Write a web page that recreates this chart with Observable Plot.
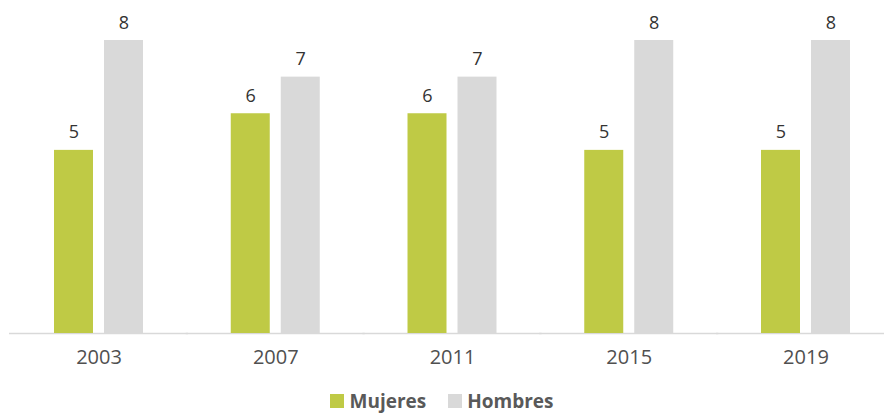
<!DOCTYPE html>
<html><head><meta charset="utf-8">
<script src="https://cdn.jsdelivr.net/npm/d3@7"></script>
<script src="https://cdn.jsdelivr.net/npm/@observablehq/plot@0.6"></script>
<style>
body{margin:0;background:#fff;font-family:"Open Sans",sans-serif}
#legend{display:flex;justify-content:center;align-items:center;height:34px;margin-top:0;padding-left:0}
.item{display:flex;align-items:center;margin:0 11px;font-weight:bold;font-size:19px;color:#595959}
.sw{width:14px;height:14px;margin-right:5px}
</style>
</head><body><div id="chart"></div><div id="legend"></div><script>
const years = ["2003","2007","2011","2015","2019"];
const series = ["Mujeres","Hombres"];
const mujeres = [5,6,6,5,5];
const hombres = [8,7,7,8,8];
const colors = ["#bfca45","#d9d9d9"];
const data = years.flatMap((y,i)=>[
  {year:y,sex:series[0],value:mujeres[i]},
  {year:y,sex:series[1],value:hombres[i]}
]);
const plot = Plot.plot({
  width:884, height:384, marginLeft:20, marginRight:0, marginTop:40, marginBottom:51,
  fx:{domain:years, paddingInner:0.4965, paddingOuter:0.1924, round:false, label:null},
  x:{domain:series, paddingInner:0.22, paddingOuter:0, round:false, axis:null},
  y:{domain:[0,8], axis:null},
  color:{domain:series, range:colors},
  style:{fontFamily:"Open Sans", background:"white"},
  marks:[
    Plot.ruleY([0],{stroke:"#d9d9d9", strokeWidth:1.5, insetLeft:-45, insetRight:-45}),
    Plot.barY(data,{fx:"year", x:"sex", y:"value", fill:"sex"}),
    Plot.text(data,{fx:"year", x:"sex", y:"value", text:d=>String(d.value), lineAnchor:"bottom", dy:-12, fontSize:18, fill:"#333333"}),
    Plot.axisFx({anchor:"bottom", tickSize:0, tickPadding:16, fontSize:20, fill:"#505050", label:null})
  ]
});
document.getElementById("chart").append(plot);
const leg = document.getElementById("legend");
series.forEach((s,i)=>{
  const it = document.createElement("div"); it.className="item";
  const sw = document.createElement("div"); sw.className="sw"; sw.style.background=colors[i];
  const t = document.createElement("span"); t.textContent=s;
  it.append(sw,t); leg.append(it);
});
</script></body></html>
